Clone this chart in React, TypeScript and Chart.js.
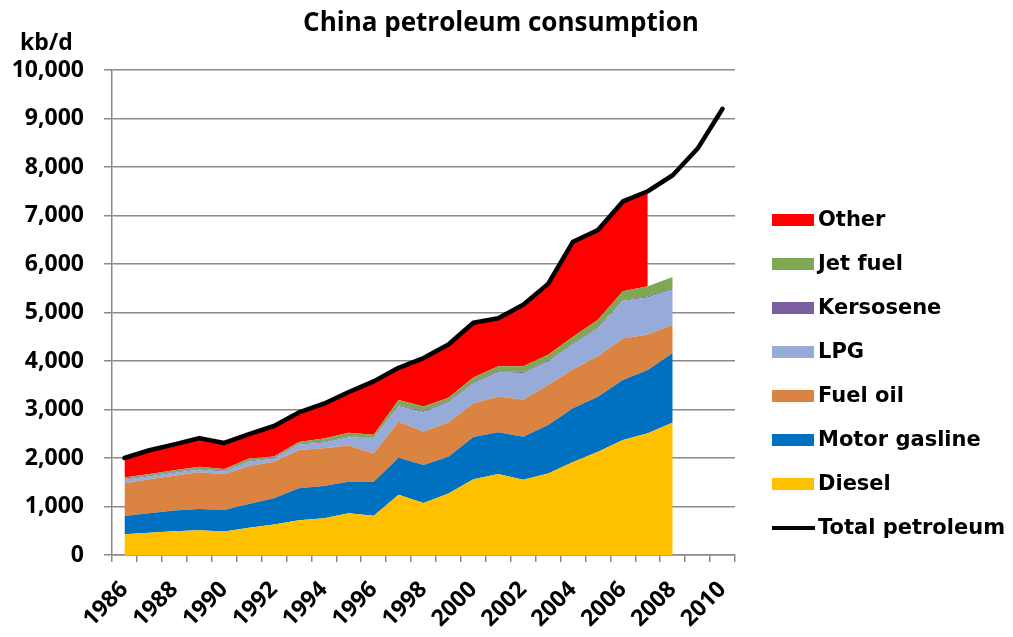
import React, { useEffect, useRef } from 'react';
import { Chart, registerables } from 'chart.js';

Chart.register(...registerables);

const titleText = 'China petroleum consumption';
const unitText = 'kb/d';

const years = [
  '1986', '1987', '1988', '1989', '1990', '1991', '1992', '1993', '1994', '1995',
  '1996', '1997', '1998', '1999', '2000', '2001', '2002', '2003', '2004', '2005',
  '2006', '2007', '2008', '2009', '2010',
];

const diesel = [430, 460, 490, 510, 485, 560, 630, 715, 760, 860, 810, 1240, 1070, 1270, 1560, 1670, 1550, 1680, 1920, 2130, 2370, 2510, 2730, null, null];
const motorGasoline = [375, 400, 425, 440, 445, 490, 540, 660, 665, 650, 700, 765, 785, 755, 875, 860, 890, 1000, 1105, 1135, 1240, 1305, 1435, null, null];
const fuelOil = [675, 700, 720, 755, 735, 785, 755, 790, 775, 750, 585, 745, 690, 705, 690, 740, 760, 825, 805, 835, 855, 730, 585, null, null];
const lpg = [70, 65, 60, 60, 55, 95, 65, 115, 120, 170, 315, 315, 405, 420, 415, 500, 555, 485, 515, 580, 775, 765, 725, null, null];
const kerosene = [15, 15, 15, 15, 15, 15, 15, 15, 15, 15, 15, 20, 20, 20, 20, 20, 20, 20, 20, 20, 20, 20, 20, null, null];
const jetFuel = [35, 30, 40, 40, 40, 45, 25, 35, 65, 75, 55, 110, 90, 70, 100, 100, 115, 120, 135, 150, 180, 210, 235, null, null];
const other = [400, 490, 530, 590, 535, 500, 630, 610, 720, 840, 1100, 665, 1000, 1100, 1130, 990, 1270, 1460, 1960, 1850, 1850, 1960, null, null, null];
const totalPetroleum = [2000, 2160, 2280, 2410, 2310, 2490, 2660, 2940, 3120, 3360, 3580, 3860, 4060, 4340, 4790, 4880, 5160, 5590, 6460, 6700, 7290, 7500, 7830, 8380, 9200];

const legendOrder = ['Other', 'Jet fuel', 'Kersosene', 'LPG', 'Fuel oil', 'Motor gasline', 'Diesel', 'Total petroleum'];

const GRID = '#8a8a8a';
const TICK_FONT = { family: '"Open Sans", "Liberation Sans", sans-serif', weight: 'bold' as const, size: 23 };

function area(label: string, data: (number | null)[], color: string, fill: string) {
  return {
    label,
    data,
    backgroundColor: color,
    borderColor: color,
    borderWidth: 0,
    pointRadius: 0,
    pointHoverRadius: 0,
    fill,
    tension: 0,
    stack: 'parts',
    order: 1,
  };
}

const decorPlugin = {
  id: 'decor',
  afterDraw(chart: any) {
    const ctx = chart.ctx as CanvasRenderingContext2D;
    ctx.save();
    ctx.fillStyle = '#000';
    ctx.font = 'bold 26px "Open Sans", sans-serif';
    ctx.textAlign = 'center';
    ctx.textBaseline = 'alphabetic';
    ctx.fillText(titleText, 501, 31);

    ctx.font = 'bold 23px "Open Sans", sans-serif';
    ctx.textAlign = 'left';
    ctx.fillText(unitText, 20, 50);

    ctx.font = 'bold 21px "DejaVu Sans", sans-serif';
    ctx.textBaseline = 'middle';
    legendOrder.forEach((name, i) => {
      const ds = chart.data.datasets.find((d: any) => d.label === name);
      if (!ds) return;
      const y = 220 + 44 * i;
      if (ds.fill === false) {
        ctx.strokeStyle = ds.borderColor;
        ctx.lineWidth = 4;
        ctx.beginPath();
        ctx.moveTo(772, y);
        ctx.lineTo(815, y);
        ctx.stroke();
      } else {
        ctx.fillStyle = ds.backgroundColor;
        ctx.fillRect(772, y - 6, 42, 12);
      }
      ctx.fillStyle = '#000';
      ctx.fillText(name, 818, y + 1);
    });
    ctx.restore();
  },
};

export default function App() {
  const ref = useRef<HTMLCanvasElement>(null);

  useEffect(() => {
    const chart = new Chart(ref.current as HTMLCanvasElement, {
      type: 'line',
      data: {
        labels: years,
        datasets: [
          area('Diesel', diesel, '#FFC000', 'origin'),
          area('Motor gasline', motorGasoline, '#0070C0', '-1'),
          area('Fuel oil', fuelOil, '#DB8441', '-1'),
          area('LPG', lpg, '#96ABD8', '-1'),
          area('Kersosene', kerosene, '#7B5E9F', '-1'),
          area('Jet fuel', jetFuel, '#7FA854', '-1'),
          area('Other', other, '#FF0000', '-1'),
          {
            label: 'Total petroleum',
            data: totalPetroleum,
            borderColor: '#000000',
            backgroundColor: '#000000',
            borderWidth: 4.5,
            pointRadius: 0,
            pointHoverRadius: 0,
            fill: false,
            tension: 0,
            stack: 'total',
            order: 0,
            borderJoinStyle: 'round',
            borderCapStyle: 'round',
          },
        ] as any,
      },
      options: {
        responsive: false,
        animation: false,
        devicePixelRatio: 1,
        layout: { padding: { top: 70, right: 278, bottom: 0, left: 0 } },
        plugins: {
          legend: { display: false },
          title: { display: false },
          tooltip: { enabled: false },
        },
        scales: {
          x: {
            type: 'category',
            offset: true,
            grid: {
              offset: true,
              drawOnChartArea: false,
              drawTicks: true,
              tickLength: 7,
              color: GRID,
              lineWidth: 1.5,
            },
            border: { display: true, color: GRID, width: 1.5 },
            ticks: {
              autoSkip: false,
              maxRotation: 45,
              minRotation: 45,
              padding: 14,
              color: '#000',
              font: TICK_FONT,
              callback: (_v: any, i: number) => (i % 2 === 0 ? years[i] : ''),
            },
            afterFit: (scale: any) => {
              scale.height = 82;
            },
          },
          y: {
            stacked: true,
            min: 0,
            max: 10000,
            grid: {
              color: GRID,
              lineWidth: 1.5,
              tickLength: 8,
              drawTicks: true,
            },
            border: { display: true, color: GRID, width: 1.5 },
            ticks: {
              stepSize: 1000,
              padding: 20,
              color: '#000',
              font: TICK_FONT,
              callback: (v: any) => Number(v).toLocaleString('en-US'),
            },
            afterFit: (scale: any) => {
              scale.width = 112;
            },
          },
        },
      },
      plugins: [decorPlugin],
    });
    return () => chart.destroy();
  }, []);

  return (
    <div style={{ position: 'fixed', left: 0, top: 0, width: 1013, height: 637, background: '#ffffff' }}>
      <canvas ref={ref} width={1013} height={637} style={{ display: 'block' }} />
    </div>
  );
}
